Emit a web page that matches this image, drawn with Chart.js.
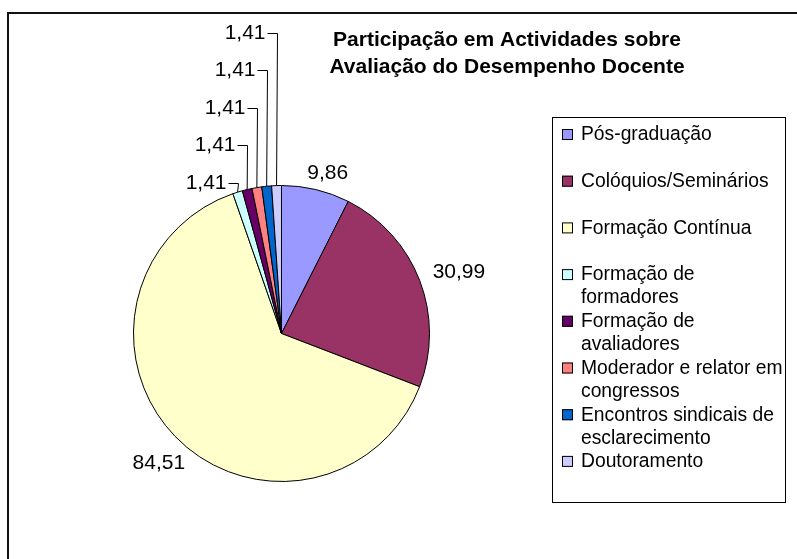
<!DOCTYPE html>
<html>
<head>
<meta charset="utf-8">
<script src="https://cdn.jsdelivr.net/npm/chart.js@4/dist/chart.umd.min.js"></script>
<style>
  html, body { margin: 0; padding: 0; background: #fff; }
  #wrap { width: 797px; height: 559px; }
</style>
</head>
<body>
<div id="wrap"><canvas id="pie" width="797" height="559"></canvas></div>
<script>
// ── Data ────────────────────────────────────────────────────────────────────
const categories = [
  'Pós-graduação',
  'Colóquios/Seminários',
  'Formação Contínua',
  'Formação de formadores',
  'Formação de avaliadores',
  'Moderador e relator em congressos',
  'Encontros sindicais de esclarecimento',
  'Doutoramento',
];
const values = [9.86, 30.99, 84.51, 1.41, 1.41, 1.41, 1.41, 1.41];
const sliceColors = ['#9999FF', '#993366', '#FFFFCC', '#CCFFFF', '#660066', '#FF8080', '#0066CC', '#CCCCFF'];
const titleLines = ['Participação em Actividades sobre', 'Avaliação do Desempenho Docente'];

const FONT = "'Liberation Sans', Arial, sans-serif";
const fmt = v => v.toFixed(2).replace('.', ',');

// ── Frame + title ───────────────────────────────────────────────────────────
const framePlugin = {
  id: 'frame',
  beforeDraw(chart) {
    const ctx = chart.ctx;
    ctx.save();
    ctx.strokeStyle = '#111';
    ctx.lineWidth = 2;
    ctx.beginPath();
    ctx.moveTo(8, 600);
    ctx.lineTo(8, 13);
    ctx.lineTo(800, 13);
    ctx.stroke();
    ctx.fillStyle = '#000';
    ctx.font = 'bold 21px ' + FONT;
    ctx.textAlign = 'center';
    ctx.textBaseline = 'alphabetic';
    titleLines.forEach((t, i) => ctx.fillText(t, 507, 46 + i * 27));
    ctx.restore();
  },
};

// ── Legend (boxed, wrapped) ─────────────────────────────────────────────────
function wrap(ctx, text, maxW) {
  const words = text.split(' ');
  const lines = [];
  let cur = '';
  words.forEach(w => {
    const test = cur ? cur + ' ' + w : w;
    if (ctx.measureText(test).width > maxW && cur) {
      lines.push(cur);
      cur = w;
    } else {
      cur = test;
    }
  });
  if (cur) lines.push(cur);
  return lines;
}

const legendPlugin = {
  id: 'boxLegend',
  afterDraw(chart) {
    const ctx = chart.ctx;
    ctx.save();
    ctx.strokeStyle = '#000';
    ctx.lineWidth = 1;
    ctx.strokeRect(552.5, 117.5, 233, 385);
    ctx.font = '19.3px ' + FONT;
    ctx.textAlign = 'left';
    ctx.textBaseline = 'middle';
    categories.forEach((c, i) => {
      const y = 135 + i * 46.7;
      ctx.fillStyle = sliceColors[i];
      ctx.fillRect(562, y - 6, 11, 11);
      ctx.strokeStyle = '#000';
      ctx.strokeRect(562.5, y - 5.5, 10, 10);
      ctx.fillStyle = '#000';
      wrap(ctx, c, 204).forEach((ln, j) => ctx.fillText(ln, 581, y + j * 23));
    });
    ctx.restore();
  },
};

// ── Data labels (with leader lines for the thin slices) ─────────────────────
const labelPlugin = {
  id: 'valueLabels',
  afterDatasetsDraw(chart) {
    const ctx = chart.ctx;
    const total = values.reduce((a, b) => a + b, 0);
    const arcs = chart.getDatasetMeta(0).data;
    ctx.save();
    ctx.font = '21px ' + FONT;
    ctx.fillStyle = '#000';
    ctx.strokeStyle = '#000';
    ctx.lineWidth = 1;
    ctx.textBaseline = 'middle';
    let k = 0;
    arcs.forEach((arc, i) => {
      const { x, y, startAngle, endAngle, outerRadius } = arc.getProps(['x', 'y', 'startAngle', 'endAngle', 'outerRadius'], true);
      const mid = (startAngle + endAngle) / 2;
      const txt = fmt(values[i]);
      if (values[i] / total < 0.03) {
        // thin slices: stacked labels with elbow leader lines
        const px = x + Math.cos(mid) * outerRadius;
        const py = y + Math.sin(mid) * outerRadius;
        const ly = Math.round(y - outerRadius - 2.5 - k * 37.6) + 0.5;
        const vx = Math.round(px) + 0.5;
        ctx.beginPath();
        ctx.moveTo(px, py);
        ctx.lineTo(vx, ly);
        ctx.lineTo(vx - 10, ly);
        ctx.stroke();
        ctx.textAlign = 'right';
        ctx.fillText(txt, vx - 12, ly);
        k++;
      } else {
        const w = ctx.measureText(txt).width;
        const c = Math.cos(mid), s = Math.sin(mid);
        const d = outerRadius + 6.5 + (w / 2) * Math.abs(c) + 10 * Math.abs(s);
        ctx.textAlign = 'center';
        ctx.fillText(txt, x + c * d + 7, y + s * d + 4);
      }
    });
    ctx.restore();
  },
};

new Chart(document.getElementById('pie'), {
  type: 'pie',
  data: {
    labels: categories,
    datasets: [{
      data: values,
      backgroundColor: sliceColors,
      borderColor: '#000',
      borderWidth: 1,
    }],
  },
  options: {
    responsive: false,
    animation: false,
    layout: { padding: { left: 133, right: 367, top: 185, bottom: 77 } },
    plugins: {
      legend: { display: false },
      title: { display: false },
      tooltip: { enabled: false },
    },
  },
  plugins: [framePlugin, labelPlugin, legendPlugin],
});
</script>
</body>
</html>
